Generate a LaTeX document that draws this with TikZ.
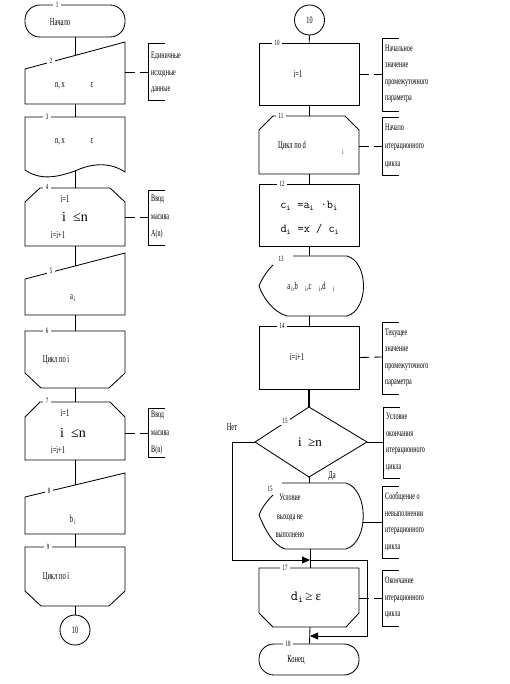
\documentclass[tikz,border=0pt]{standalone}
\usepackage{fontspec}
\setmainfont{Liberation Serif}[FakeStretch=0.62]
\newfontfamily\serf{Liberation Serif}
\usetikzlibrary{arrows.meta}
\tikzset{
  shp/.style={line width=0.85pt},
  num/.style={fill=white, inner xsep=3pt, inner ysep=1pt, font=\fontsize{8}{8}\selectfont},
  txt/.style={inner sep=0pt, font=\fontsize{10.5}{12}\selectfont},
  cmt/.style={align=left, anchor=west, inner sep=1pt, font=\fontsize{9.8}{16.5}\selectfont},
  dsh/.style={line width=0.85pt, dash pattern=on 10pt off 5pt},
  conn/.style={line width=0.85pt},
  arr/.style={conn, -{Triangle[length=8pt,width=7pt]}},
  big/.style={inner sep=0pt, font=\serf\fontsize{14}{14}\selectfont},
  frm/.style={inner sep=0pt, font=\ttfamily\fontsize{12}{12}\selectfont}
}
\newcommand{\brk}[3]{\draw[shp] (#1+17,#2) -- (#1,#2) -- (#1,#3) -- (#1+17,#3);}
\begin{document}
\begin{tikzpicture}[x=1pt,y=-1pt]
\useasboundingbox (0,0) rectangle (510,684);
% ---------- left column ----------
% 1 terminator
\node[draw, shp, rounded corners=15pt, minimum width=100pt, minimum height=32pt, inner sep=0pt] (n1) at (75,21) {};
\node[txt] (t1) at (60,22) {Начало};
% 2 manual input
\draw[shp] (25,69) -- (125,42) -- (125,104) -- (25,104) -- cycle;
\coordinate (n2t) at (75,55.5); \coordinate (n2b) at (75,104); \coordinate (n2r) at (125,72);
\node[txt] (t2a) at (60,86) {n, x};
\node[txt] (t2b) at (92,85) {ε};
% 3 document
\draw[shp] (25,117) -- (125,117) -- (125,172) .. controls (110,162) and (92,163) .. (75,171) .. controls (55,178) and (40,180) .. (25,170) -- cycle;
\coordinate (n3t) at (75,117); \coordinate (n3b) at (75,171);
\node[txt] (t3a) at (60,142) {n, x};
\node[txt] (t3b) at (92,141) {ε};
% 4 loop start
\draw[shp] (25,202) -- (40,188) -- (110,188) -- (125,202) -- (125,246) -- (25,246) -- cycle;
\coordinate (n4t) at (75,188); \coordinate (n4b) at (75,246); \coordinate (n4r) at (125,217);
\node[txt] (t4a) at (65,199) {i=1};
\node[big] (t4b) at (75,217) {i \ ≤n};
\node[txt] (t4c) at (58,235) {i=i+1};
% 5 manual input
\draw[shp] (25,279) -- (125,253) -- (125,315) -- (25,315) -- cycle;
\coordinate (n5t) at (75,266); \coordinate (n5b) at (75,315);
\node[txt] (t5) at (73,298) {a\textsubscript{\ i}};
% 6 loop end
\draw[shp] (25,331) -- (125,331) -- (125,373) -- (109,388) -- (41,388) -- (25,373) -- cycle;
\coordinate (n6t) at (75,331); \coordinate (n6b) at (75,388);
\node[txt] (t6) at (56,360) {Цикл по i};
% 7 loop start
\draw[shp] (25,417) -- (40,402) -- (110,402) -- (125,417) -- (125,460) -- (25,460) -- cycle;
\coordinate (n7t) at (75,402); \coordinate (n7b) at (75,460); \coordinate (n7r) at (125,433);
\node[txt] (t7a) at (65,413) {i=1};
\node[big] (t7b) at (73,433) {i \ ≤n};
\node[txt] (t7c) at (58,450) {i=i+1};
% 8 manual input
\draw[shp] (25,497) -- (125,473) -- (125,534) -- (25,534) -- cycle;
\coordinate (n8t) at (75,485); \coordinate (n8b) at (75,534);
\node[txt] (t8) at (73,520) {b\textsubscript{\ i}};
% 9 loop end
\draw[shp] (25,547) -- (125,547) -- (125,591) -- (109,606) -- (41,606) -- (25,591) -- cycle;
\coordinate (n9t) at (75,547); \coordinate (n9b) at (75,606);
\node[txt] (t9) at (56,577) {Цикл по i};
% connector 10
\node[draw, shp, circle, minimum size=30pt, inner sep=0pt, font=\fontsize{10}{12}\selectfont] (k1) at (75,630) {10};
% left connectors
\draw[conn] (n1) -- (n2t);
\draw[conn] (n2b) -- (n3t);
\draw[conn] (n3b) -- (n4t);
\draw[conn] (n4b) -- (n5t);
\draw[conn] (n5b) -- (n6t);
\draw[conn] (n6b) -- (n7t);
\draw[conn] (n7b) -- (n8t);
\draw[conn] (n8b) -- (n9t);
\draw[conn] (n9b) -- (k1);
% left comments
\brk{148}{43}{100}
\node[cmt] (c2) at (150,73) {Единичные\\исходные\\данные};
\coordinate (c2l) at (148,72);
\draw[dsh] (n2r) -- (c2l);
\brk{148}{190}{245}
\node[cmt, font=\fontsize{9.8}{17.5}\selectfont] (c4) at (150,217) {Ввод\\масива\\A(n)};
\coordinate (c4l) at (148,217);
\draw[dsh] (n4r) -- (c4l);
\brk{148}{408}{457}
\node[cmt, font=\fontsize{9.8}{17.5}\selectfont] (c7) at (150,433) {Ввод\\масива\\B(n)};
\coordinate (c7l) at (148,433);
\draw[dsh] (n7r) -- (c7l);
% left numbers
\node[num] (l1) at (57,5) {1};
\node[num] (l2) at (51,61) {2};
\node[num] (l3) at (47,117) {3};
\node[num] (l4) at (47,187) {4};
\node[num] (l5) at (51,271) {5};
\node[num] (l6) at (47,331) {6};
\node[num] (l7) at (47,401) {7};
\node[num] (l8) at (49,491) {8};
\node[num] (l9) at (48,547) {9};
% ---------- right column ----------
\node[draw, shp, circle, minimum size=30pt, inner sep=0pt, font=\fontsize{10}{12}\selectfont] (k2) at (309.5,20) {10};
% 10 process
\node[draw, shp, minimum width=100pt, minimum height=62pt, inner sep=0pt] (r10) at (309,74) {};
\node[txt] (u10) at (298,74) {i=1};
% 11 loop start
\draw[shp] (259,130) -- (273,116) -- (345,116) -- (359,130) -- (359,174) -- (259,174) -- cycle;
\coordinate (r11t) at (309,116); \coordinate (r11b) at (309,174); \coordinate (r11r) at (359,146);
\node[txt] (u11) at (292,146) {Цикл по d};
\node[txt, font=\fontsize{7.5}{8}\selectfont] (u11i) at (343,152) {i};
% 12 process
\node[draw, shp, minimum width=100pt, minimum height=62pt, inner sep=0pt] (r12) at (309,215) {};
\node[frm] (u12a) at (309,206) {c\textsubscript{i} =a\textsubscript{i} ·b\textsubscript{i}};
\node[frm] (u12b) at (310,229) {d\textsubscript{i} =x / c\textsubscript{i}};
% 13 display
\draw[shp] (293,256) -- (347,256) .. controls (369,262) and (369,310) .. (347,316) -- (287,316) .. controls (272,312) and (262,295) .. (259,286) .. controls (262,278) and (268,270) .. (273,265);
\coordinate (r13t) at (309,256); \coordinate (r13b) at (309,316);
\node[txt, font=\fontsize{10.5}{12}\selectfont] (u13) at (311,287) {a\textsubscript{\ i},b\textsubscript{\quad i},c\textsubscript{\quad i},d\textsubscript{\quad i}};
% 14 process
\node[draw, shp, minimum width=100pt, minimum height=63pt, inner sep=0pt] (r14) at (309,357.5) {};
\node[txt] (u14) at (297,357) {i=i+1};
% 15 decision
\draw[shp] (309,407) -- (367,442) -- (309,477) -- (255,442) -- cycle;
\coordinate (r15t) at (309,407); \coordinate (r15b) at (309,477);
\coordinate (r15l) at (255,442); \coordinate (r15r) at (367,442);
\node[big, font=\serf\fontsize{13}{13}\selectfont] (u15) at (310,442) {i \ ≥n};
\node[txt] (no) at (232,427) {Нет};
\node[txt] (yes) at (332,476) {Да};
% 16 display
\draw[shp] (282,483) -- (346,483) .. controls (369,490) and (369,542) .. (346,549) -- (285,549) .. controls (272,545) and (263,525) .. (259,515) .. controls (262,507) and (268,500) .. (273,495);
\coordinate (r16t) at (309,483); \coordinate (r16b) at (310,549); \coordinate (r16r) at (363,522);
\node[txt, align=center, font=\fontsize{9.8}{18.5}\selectfont] (u16) at (290,516) {Условие\\выхода не\\выполнено};
% 17 loop end
\draw[shp] (259,568) -- (359,568) -- (359,613) -- (346,627) -- (273,627) -- (259,613) -- cycle;
\coordinate (r17t) at (310,568); \coordinate (r17b) at (310,627); \coordinate (r17r) at (359,598);
\node[inner sep=0pt] (u17) at (306,597) {{\ttfamily\fontsize{14}{14}\selectfont d\textsubscript{i}} {\serf\fontsize{13}{13}\selectfont ≥ ε}};
% 18 terminator
\node[draw, shp, rounded corners=15pt, minimum width=100pt, minimum height=31pt, inner sep=0pt] (r18) at (309,659.5) {};
\node[txt] (u18) at (296,660) {Конец};
% junctions
\coordinate (j1) at (310,560);
\coordinate (j2) at (310,636);
\coordinate (w1) at (232,442); \coordinate (w2) at (232,560);
\coordinate (e1) at (367,560); \coordinate (e2) at (367,636);
% right connectors
\draw[conn] (k2) -- (r10);
\draw[conn] (r10) -- (r11t);
\draw[conn] (r11b) -- (r12);
\draw[conn] (r12) -- (r13t);
\draw[conn] (r13b) -- (r14);
\draw[line width=1.8pt] (r14) -- (r15t);
\draw[conn] (r15b) -- (r16t);
\draw[conn] (r16b) -- (r17t);
\draw[conn] (r17b) -- (r18);
\draw[arr] (r15l) -- (w1) -- (w2) -- (j1);
\draw[arr] (j1) -- (e1) -- (e2) -- (j2);
% right comments
\brk{382}{38}{111}
\node[cmt] (c10) at (384,74) {Начальное\\значение\\промежуточного\\параметра};
\coordinate (c10l) at (382,74);
\draw[dsh] (r10.east) -- (c10l);
\brk{382}{117}{175}
\node[cmt, font=\fontsize{9.8}{18}\selectfont] (c11) at (384,146) {Начало\\итерационного\\цикла};
\coordinate (c11l) at (382,146);
\draw[dsh] (r11r) -- (c11l);
\brk{382}{322}{394}
\node[cmt] (c14) at (384,358) {Текущее\\значение\\промежуточного\\параметра};
\coordinate (c14l) at (382,357);
\draw[dsh] (r14.east) -- (c14l);
\brk{383}{407}{478}
\node[cmt] (c15) at (385,442) {Условие\\окончания\\итерационного\\цикла};
\coordinate (c15l) at (383,442);
\draw[conn] (r15r) -- (c15l);
\brk{382}{486}{558}
\node[cmt] (c16) at (384,522) {Сообщение о\\невыполнении\\итерационного\\цикла};
\coordinate (c16l) at (382,522);
\draw[conn] (r16r) -- (c16l);
\brk{382}{570}{626}
\node[cmt] (c17) at (384,598) {Окончание\\итерационного\\цикла};
\coordinate (c17l) at (382,598);
\draw[dsh] (r17r) -- (c17l);
% right numbers
\node[num] (m10) at (277,43) {10};
\node[num] (m11) at (281,116) {11};
\node[num] (m12) at (282,184) {12};
\node[num] (m13) at (281,259) {13};
\node[num] (m14) at (282,326) {14};
\node[num] (m15) at (285,421) {15};
\node[num] (m16) at (270,489) {15};
\node[num] (m17) at (285,568) {17};
\node[num] (m18) at (288,644) {18};
\end{tikzpicture}
\end{document}
